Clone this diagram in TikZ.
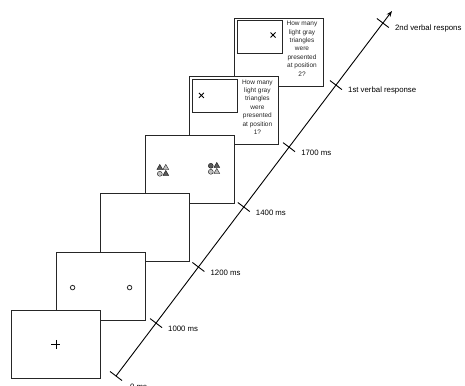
\documentclass[tikz,border=0pt]{standalone}
\usepackage{fontspec}
\setmainfont{Liberation Sans}
\usetikzlibrary{calc,arrows.meta,shapes.geometric}
\begin{document}
\begin{tikzpicture}[x=1pt,y=-1pt,
 screen/.style={draw=black!85,line width=0.8pt,fill=white,minimum width=89pt,minimum height=68pt,anchor=north west,inner sep=0pt},
 innerbox/.style={draw=black!85,line width=0.8pt,minimum width=45pt,minimum height=33pt,anchor=north west,inner sep=0pt},
 question/.style={font=\fontsize{6.5}{8.4}\selectfont,align=center,anchor=north,inner sep=0pt,text=black!85},
 timelbl/.style={font=\fontsize{7.8}{9}\selectfont,anchor=west,inner sep=0pt},
 tri/.style={regular polygon,regular polygon sides=3,draw=black,line width=0.3pt,minimum size=6.8pt,inner sep=0pt},
 dot/.style={circle,draw=black,line width=0.3pt,minimum size=5pt,inner sep=0pt},
 dk/.style={fill=black!65},
 lt/.style={fill=black!25},
 crossline/.style={line width=0.8pt},
 tickmark/.style={line width=0.9pt}
]
\useasboundingbox (0,0) rectangle (465,385);

% screen 6
\node[screen] (b6) at (234,18) {};
\node[innerbox] (i6) at ($(b6.north west)+(3,2.5)$) {};
\draw[crossline] ($(b6.north west)+(36.5,14.5)$) -- ($(b6.north west)+(41.5,19.5)$)
            ($(b6.north west)+(36.5,19.5)$) -- ($(b6.north west)+(41.5,14.5)$);
\node[question] (q6) at ($(b6.north west)+(68,3)$) {How many\\light gray\\triangles\\were\\presented\\at position\\2?};

% screen 5
\node[screen] (b5) at (189.4,76.4) {};
\node[innerbox] (i5) at ($(b5.north west)+(3,3)$) {};
\draw[crossline] ($(b5.north west)+(9.5,16.5)$) -- ($(b5.north west)+(14.5,21.5)$)
            ($(b5.north west)+(9.5,21.5)$) -- ($(b5.north west)+(14.5,16.5)$);
\node[question] (q5) at ($(b5.north west)+(68,3)$) {How many\\light gray\\triangles\\were\\presented\\at position\\1?};

% screen 4
\node[screen] (b4) at (144.8,134.8) {};
\coordinate (cl) at ($(b4.north west)+(18,36)$);
\coordinate (cr) at ($(b4.north west)+(69,34)$);
\node[tri,dk] (l1) at ($(cl)+(-3,-3)$) {};
\node[tri,lt] (l2) at ($(cl)+(3,-3)$) {};
\node[dot,lt] (l3) at ($(cl)+(-3,3)$) {};
\node[tri,dk] (l4) at ($(cl)+(3,3)$) {};
\node[dot,dk] (r1) at ($(cr)+(-3,-3)$) {};
\node[tri,dk] (r2) at ($(cr)+(3,-3)$) {};
\node[dot,lt] (r3) at ($(cr)+(-3,3)$) {};
\node[tri,lt] (r4) at ($(cr)+(3,3)$) {};

% screen 3
\node[screen] (b3) at (100.2,193.2) {};

% screen 2
\node[screen] (b2) at (55.6,251.6) {};
\node[circle,draw=black!85,line width=0.8pt,minimum size=4.5pt,inner sep=0pt] (o1) at ($(b2.north west)+(17,36)$) {};
\node[circle,draw=black!85,line width=0.8pt,minimum size=4.5pt,inner sep=0pt] (o2) at ($(b2.north west)+(74,36)$) {};

% screen 1
\node[screen] (b1) at (11,310) {};
\draw[crossline] ($(b1.center)+(0,-4.5)$) -- ($(b1.center)+(0,4.5)$)
            ($(b1.center)+(-4.5,0)$) -- ($(b1.center)+(4.5,0)$);

% time axis
\coordinate (S) at (116,376);
\coordinate (E) at (392,11);
\draw[line width=0.9pt,-{Stealth[length=6pt,width=4.5pt]}] (S) -- (E);
\foreach \pos/\nm/\lbl in {0/t0/{},0.145/t1/1000 ms,0.2986/t2/1200 ms,0.463/t3/1400 ms,0.627/t4/1700 ms,0.797/t5/1st verbal response,0.967/t6/2nd verbal respons}{
  \coordinate (\nm) at ($(S)!\pos!(E)$);
  \draw[tickmark] ($(\nm)!7.5pt!90:(E)$) -- ($(\nm)!7.5pt!-90:(E)$);
  \node[timelbl] (l\nm) at ($(\nm)+(12,5.5)$) {\lbl};
}
\node[timelbl] (zero) at ($(t0)+(14,11)$) {0 ms};
\end{tikzpicture}
\end{document}
